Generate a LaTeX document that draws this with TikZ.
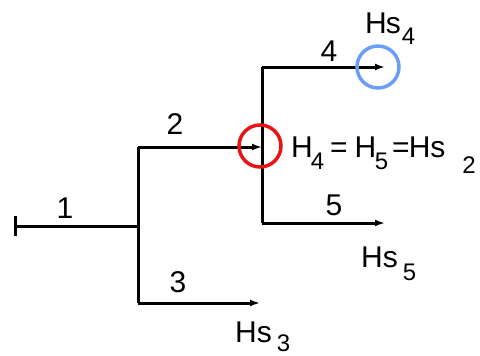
\documentclass[tikz,border=0pt]{standalone}
\usepackage{fontspec}
\setmainfont{Liberation Sans}
\usetikzlibrary{arrows.meta}
\definecolor{ringblue}{RGB}{108,158,245}
\definecolor{ringred}{RGB}{235,20,20}
\newcommand\sbx[2]{\raisebox{-#1pt}{\fontsize{24}{24}\selectfont #2}}
\begin{document}
\begin{tikzpicture}[x=1pt,y=-1pt,
  pipe/.style={draw=black, line width=3pt},
  arr/.style={-{Latex[length=10pt,width=7pt]}},
  lbl/.style={font=\fontsize{30}{30}\selectfont, inner sep=0pt},
  ring/.style={circle, line width=3.5pt, minimum size=42pt, inner sep=0pt}]
\useasboundingbox (0,0) rectangle (480,356);
\coordinate (s) at (14,226);
\coordinate (j1) at (138,226);
\coordinate (j1t) at (138,147);
\coordinate (j1b) at (138,303);
\coordinate (e3) at (260,303);
\coordinate (j2) at (262,147);
\coordinate (j2t) at (262,67);
\coordinate (j2b) at (262,223);
\coordinate (e4) at (385,67);
\coordinate (e5) at (385,223);
\draw[pipe,{Bar[width=20pt]}-] (s) -- (j1);
\draw[pipe] (j1t) -- (j1b);
\draw[pipe,arr] (j1t) -- (j2);
\draw[pipe] (j2t) -- (j2b);
\draw[pipe,arr] (j2t) -- (e4);
\draw[pipe,arr] (j2b) -- (e5);
\draw[pipe,arr] (j1b) -- (e3);
\node[ring, draw=ringred] (rc) at (260,146) {};
\node[ring, draw=ringblue] (bc) at (378,67) {};
\node[lbl] (l1) at (65,208) {1};
\node[lbl] (l2) at (175,124) {2};
\node[lbl] (l3) at (178,282) {3};
\node[lbl] (l4) at (329,51) {4};
\node[lbl] (l5) at (334,205) {5};
\node[lbl, anchor=base west] (hs4) at (365,33) {H\hspace{-1pt}s\hspace{1pt}\sbx{12}{4}};
\node[lbl, anchor=base west] (hs5) at (361,267) {Hs\hspace{5pt}\sbx{13}{5}};
\node[lbl, anchor=base west] (hs3) at (235,342) {Hs\hspace{5pt}\sbx{9}{3}};
\node[lbl, anchor=base west] (hs2) at (291,157) {H\hspace{-2pt}\sbx{12}{4}\hspace{6pt}=\hspace{7pt}H\hspace{-1.5pt}\sbx{12}{5}\hspace{4pt}=\hspace{-1pt}Hs\hspace{17pt}\sbx{17}{2}};
\end{tikzpicture}
\end{document}
